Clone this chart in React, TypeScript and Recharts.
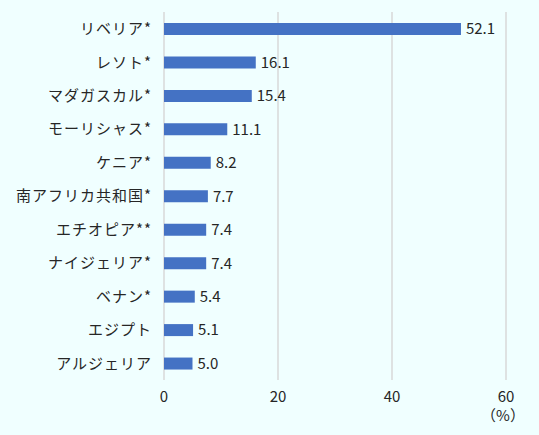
import React from "react";
import { BarChart, Bar, XAxis, YAxis, CartesianGrid, LabelList } from "recharts";

const categories = [
  "リベリア*",
  "レソト*",
  "マダガスカル*",
  "モーリシャス*",
  "ケニア*",
  "南アフリカ共和国*",
  "エチオピア**",
  "ナイジェリア*",
  "ベナン*",
  "エジプト",
  "アルジェリア",
];
const values = [52.1, 16.1, 15.4, 11.1, 8.2, 7.7, 7.4, 7.4, 5.4, 5.1, 5.0];
const xTicks = [0, 20, 40, 60];
const unitLabel = "（%）";

const data = categories.map((name, i) => ({ name, value: values[i] }));

const FONT = "'Noto Sans CJK JP', 'Noto Sans', sans-serif";
const TEXT = "#262626";

const XTick = (props: any) => {
  const { x, y, payload } = props;
  return (
    <g>
      <text x={x} y={y + 14} textAnchor="middle" fontSize={15} fontFamily={FONT} fill={TEXT}>
        {payload.value}
      </text>
      {payload.value === 60 && (
        <text x={x - 3} y={y + 33} textAnchor="middle" fontSize={15} fontFamily={FONT} fill={TEXT}>
          {unitLabel}
        </text>
      )}
    </g>
  );
};

export default function App() {
  return (
    <div
      style={{
        position: "absolute",
        left: 0,
        top: 0,
        width: 539,
        height: 435,
        background: "#F0FFFF",
      }}
    >
      <BarChart
        width={539}
        height={435}
        data={data}
        layout="vertical"
        margin={{ top: 12, right: 33, bottom: 0, left: 0 }}
        barSize={12}
      >
        <CartesianGrid horizontal={false} vertical={true} stroke="#D9D9D9" strokeWidth={1.5} />
        <XAxis
          type="number"
          domain={[0, 60]}
          ticks={xTicks}
          axisLine={false}
          tickLine={false}
          height={55}
          interval={0}
          tick={<XTick />}
        />
        <YAxis
          type="category"
          dataKey="name"
          width={164}
          axisLine={false}
          tickLine={false}
          tickMargin={6}
          interval={0}
          tick={{ fontSize: 15, fontFamily: FONT, fill: TEXT, letterSpacing: 1 }}
        />
        <Bar dataKey="value" fill="#4472C4" isAnimationActive={false}>
          <LabelList
            dataKey="value"
            position="right"
            offset={5}
            formatter={(v: any) => Number(v).toFixed(1)}
            style={{ fontSize: 15, fontFamily: FONT, fill: TEXT }}
          />
        </Bar>
      </BarChart>
    </div>
  );
}
